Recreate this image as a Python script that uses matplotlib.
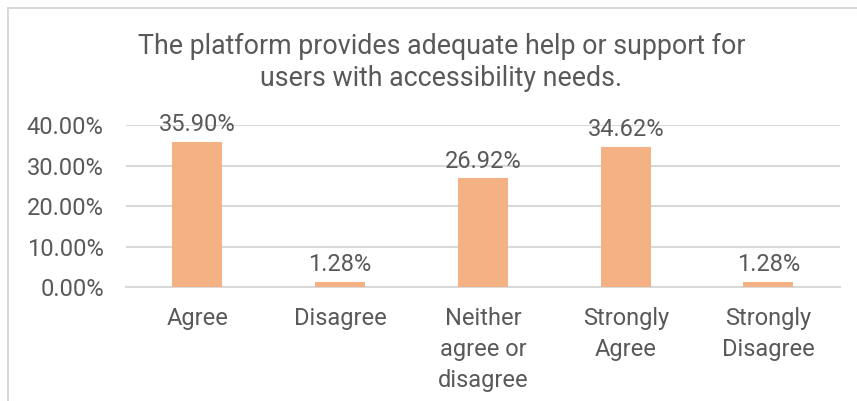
import matplotlib.pyplot as plt
from matplotlib.patches import Rectangle
from matplotlib.ticker import PercentFormatter

plt.rcParams['font.family'] = ['Roboto', 'DejaVu Sans']

# Survey responses
categories = ['Agree', 'Disagree', 'Neither\nagree or\ndisagree', 'Strongly\nAgree', 'Strongly\nDisagree']
shares = [35.90, 1.28, 26.92, 34.62, 1.28]
y_ticks = [0, 10, 20, 30, 40]

text_color = '#595959'
bar_color = '#F4B183'
grid_color = '#D9D9D9'

fig = plt.figure(figsize=(8.57, 4.01), dpi=100)
ax = fig.add_axes([0.147, 0.284, 0.833, 0.404])

# chart frame
fig.patches.append(Rectangle((8 / 857, -0.1), 1.2, 1 - 8 / 401 + 0.1,
                             transform=fig.transFigure, fill=False,
                             edgecolor=grid_color, linewidth=1.5))

x = range(len(categories))
bars = ax.bar(x, shares, width=0.35, color=bar_color, zorder=3)

for b, v in zip(bars, shares):
    ax.annotate(f'{v:.2f}%', (b.get_x() + b.get_width() / 2, v),
                xytext=(0, 4), textcoords='offset points',
                ha='center', va='bottom', fontsize=17, color=text_color)

ax.set_xlim(-0.5, len(categories) - 0.5)
ax.set_ylim(0, 40)
ax.set_yticks(y_ticks)
ax.yaxis.set_major_formatter(PercentFormatter(decimals=2))
ax.set_xticks(list(x))
ax.set_xticklabels(categories, linespacing=1.45)
ax.tick_params(axis='both', length=0, labelsize=17, labelcolor=text_color)
ax.tick_params(axis='y', pad=16)
ax.tick_params(axis='x', pad=14)
ax.grid(axis='y', color=grid_color, linewidth=1.5, zorder=0)
for side in ['top', 'right', 'left']:
    ax.spines[side].set_visible(False)
ax.spines['bottom'].set_color(grid_color)
ax.spines['bottom'].set_linewidth(1.5)

fig.text(0.515, 0.845, 'The platform provides adequate help or support for\nusers with accessibility needs.',
         ha='center', va='center', fontsize=19.3, color=text_color, linespacing=1.25)

fig.savefig('out.png', dpi=100)
